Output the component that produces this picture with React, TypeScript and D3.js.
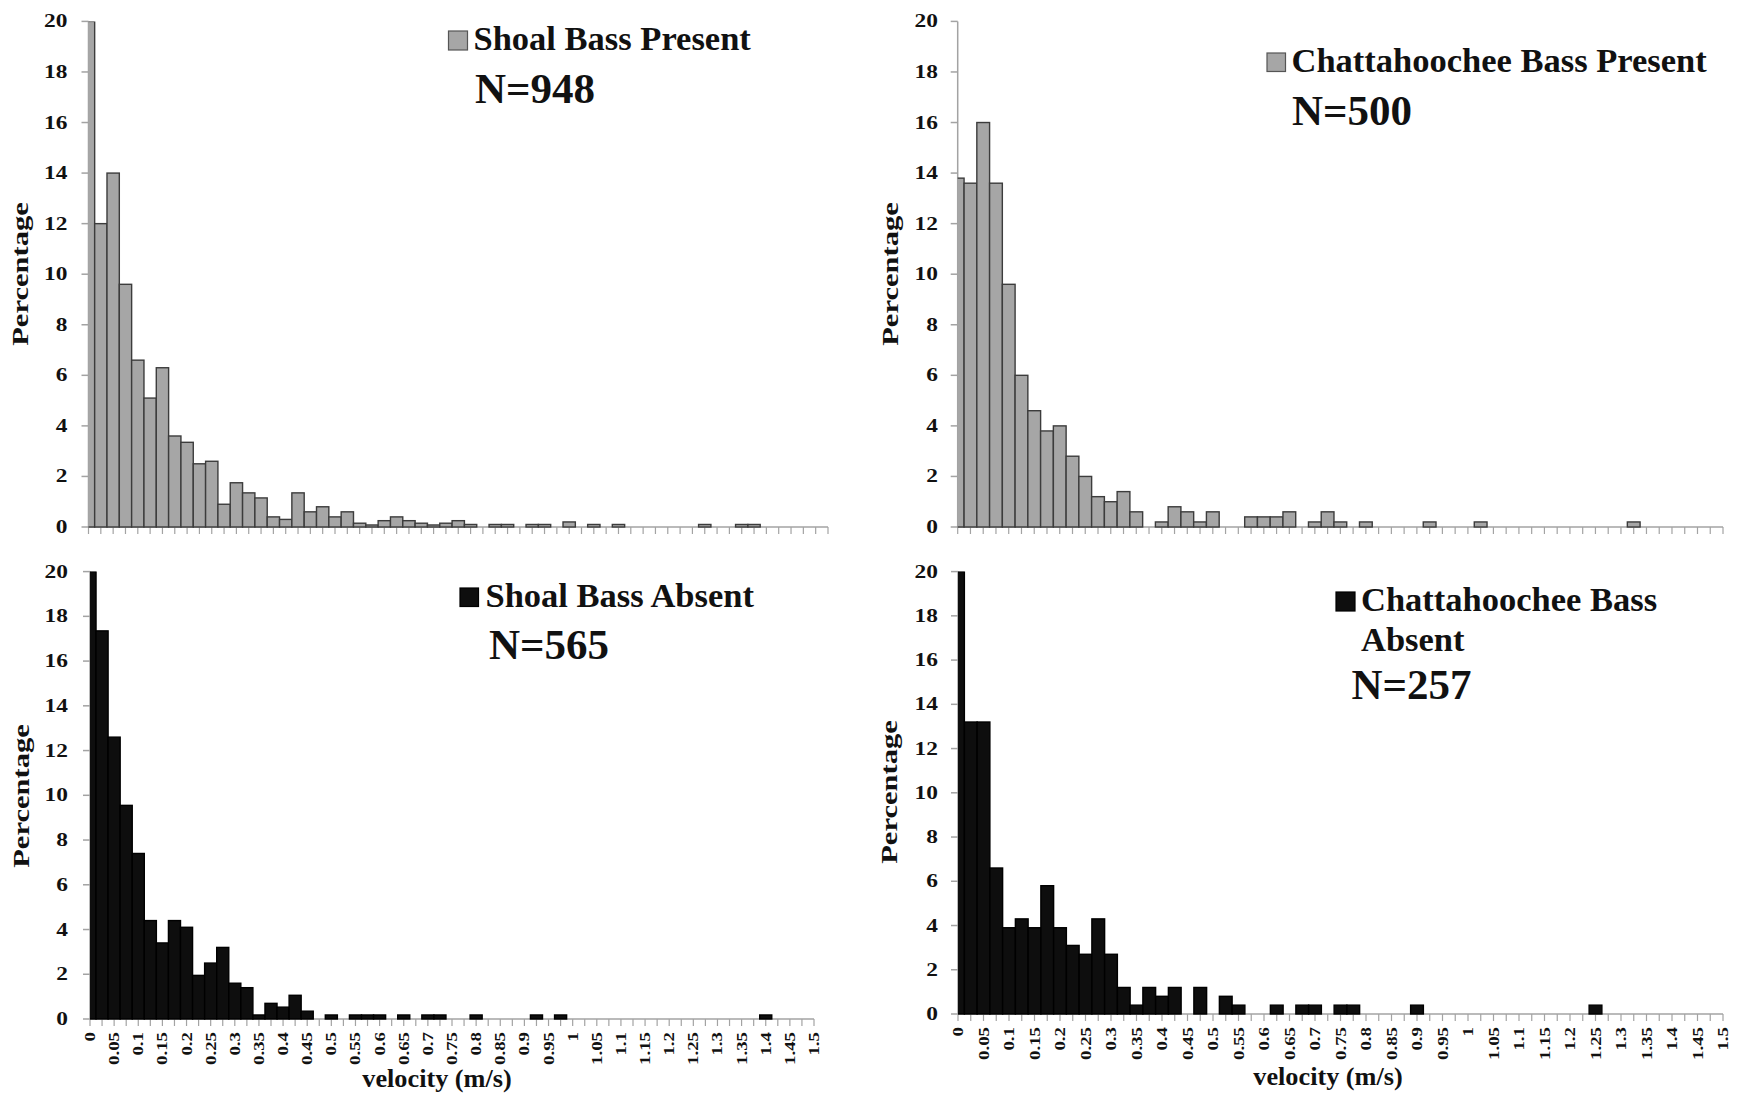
import React from 'react';
import * as d3 from 'd3';

// ---------- DATA ----------
const velocityCategories: number[] = [
  0, 0.025, 0.05, 0.075, 0.1, 0.125, 0.15, 0.175, 0.2, 0.225,
  0.25, 0.275, 0.3, 0.325, 0.35, 0.375, 0.4, 0.425, 0.45, 0.475,
  0.5, 0.525, 0.55, 0.575, 0.6, 0.625, 0.65, 0.675, 0.7, 0.725,
  0.75, 0.775, 0.8, 0.825, 0.85, 0.875, 0.9, 0.925, 0.95, 0.975,
  1, 1.025, 1.05, 1.075, 1.1, 1.125, 1.15, 1.175, 1.2, 1.225,
  1.25, 1.275, 1.3, 1.325, 1.35, 1.375, 1.4, 1.425, 1.45, 1.475, 1.5,
];

const velocityTickLabels: string[] = [
  '0', '0.05', '0.1', '0.15', '0.2', '0.25', '0.3', '0.35', '0.4', '0.45',
  '0.5', '0.55', '0.6', '0.65', '0.7', '0.75', '0.8', '0.85', '0.9', '0.95',
  '1', '1.05', '1.1', '1.15', '1.2', '1.25', '1.3', '1.35', '1.4', '1.45', '1.5',
];

const percentTicks: number[] = [0, 2, 4, 6, 8, 10, 12, 14, 16, 18, 20];

const shoalPresent: number[] = [
  20, 12.0, 14.0, 9.6, 6.6, 5.1, 6.3, 3.6, 3.35, 2.5,
  2.6, 0.9, 1.75, 1.35, 1.15, 0.4, 0.3, 1.35, 0.6, 0.8,
  0.4, 0.6, 0.15, 0.08, 0.25, 0.4, 0.25, 0.15, 0.08, 0.15,
  0.25, 0.1, 0, 0.1, 0.1, 0, 0.1, 0.1, 0, 0.2,
  0, 0.1, 0, 0.1, 0, 0, 0, 0, 0, 0,
  0.1, 0, 0, 0.1, 0.1, 0, 0, 0, 0, 0, 0,
];

const chattPresent: number[] = [
  13.8, 13.6, 16.0, 13.6, 9.6, 6.0, 4.6, 3.8, 4.0, 2.8,
  2.0, 1.2, 1.0, 1.4, 0.6, 0, 0.2, 0.8, 0.6, 0.2,
  0.6, 0, 0, 0.4, 0.4, 0.4, 0.6, 0, 0.2, 0.6,
  0.2, 0, 0.2, 0, 0, 0, 0, 0.2, 0, 0,
  0, 0.2, 0, 0, 0, 0, 0, 0, 0, 0,
  0, 0, 0, 0.2, 0, 0, 0, 0, 0, 0, 0,
];

const shoalAbsent: number[] = [
  20, 17.35, 12.6, 9.55, 7.4, 4.4, 3.4, 4.4, 4.1, 1.95,
  2.5, 3.2, 1.6, 1.4, 0.18, 0.7, 0.53, 1.06, 0.35, 0,
  0.18, 0, 0.18, 0.18, 0.18, 0, 0.18, 0, 0.18, 0.18,
  0, 0, 0.18, 0, 0, 0, 0, 0.18, 0, 0.18,
  0, 0, 0, 0, 0, 0, 0, 0, 0, 0,
  0, 0, 0, 0, 0, 0, 0.18, 0, 0, 0, 0,
];

const chattAbsent: number[] = [
  20, 13.2, 13.2, 6.6, 3.9, 4.3, 3.9, 5.8, 3.9, 3.1,
  2.7, 4.3, 2.7, 1.2, 0.4, 1.2, 0.8, 1.2, 0, 1.2,
  0, 0.8, 0.4, 0, 0, 0.4, 0, 0.4, 0.4, 0,
  0.4, 0.4, 0, 0, 0, 0, 0.4, 0, 0, 0,
  0, 0, 0, 0, 0, 0, 0, 0, 0, 0,
  0.4, 0, 0, 0, 0, 0, 0, 0, 0, 0, 0,
];

const legendShoalPresent: string[] = ['Shoal Bass Present'];
const legendChattPresent: string[] = ['Chattahoochee Bass Present'];
const legendShoalAbsent: string[] = ['Shoal Bass Absent'];
const legendChattAbsent: string[] = ['Chattahoochee Bass', 'Absent'];
const sampleSizes: string[] = ['N=948', 'N=500', 'N=565', 'N=257'];

// ---------- STYLE ----------
const FONT = "'Liberation Serif', 'Times New Roman', serif";
const TEXT = '#111';
const AXIS = '#a3a3a3';
const GRAY_FILL = '#a6a6a6';
const GRAY_STROKE = '#3c3c3c';
const BLACK_FILL = '#0e0e0e';
const STRETCH = 1.3;

type PanelProps = {
  id: string;
  values: number[];
  fill: string;
  stroke: string;
  x0: number; x1: number; y20: number; y0: number;
  yLabelRight: number;
  pctX: number; pctY: number;
  square: { x: number; y: number; s: number };
  lines: { text: string; x: number; y: number }[];
  n: { text: string; x: number; y: number };
  xLabels?: boolean;
  velocity?: { x: number; y: number };
};

function Panel(p: PanelProps) {
  const x = d3.scalePoint<number>().domain(velocityCategories).range([p.x0, p.x1]);
  const step = x.step();
  const y = d3.scaleLinear().domain([0, 20]).range([p.y0, p.y20]);
  const clipId = `clip-${p.id}`;
  return (
    <g>
      <defs>
        <clipPath id={clipId}>
          <rect x={p.x0} y={p.y20} width={p.x1 - p.x0} height={p.y0 - p.y20 + 2} />
        </clipPath>
      </defs>
      {/* axes */}
      <line x1={p.x0} x2={p.x0} y1={p.y20} y2={p.y0} stroke={AXIS} strokeWidth={1.5} />
      <line x1={p.x0} x2={p.x1} y1={p.y0} y2={p.y0} stroke={AXIS} strokeWidth={1.5} />
      {percentTicks.map((t) => (
        <line key={`yt${t}`} x1={p.x0 - 7} x2={p.x0} y1={y(t)} y2={y(t)} stroke={AXIS} strokeWidth={1.5} />
      ))}
      {velocityCategories.map((c) => (
        <line key={`xt${c}`} x1={x(c)!} x2={x(c)!} y1={p.y0} y2={p.y0 + 7} stroke={AXIS} strokeWidth={1.2} />
      ))}
      {/* bars */}
      <g clipPath={`url(#${clipId})`}>
        {p.values.map((v, i) =>
          v > 0 ? (
            <rect
              key={`b${i}`}
              x={x(velocityCategories[i])! - step / 2}
              y={y(v)}
              width={step}
              height={p.y0 - y(v)}
              fill={p.fill}
              stroke={p.stroke}
              strokeWidth={1.4}
            />
          ) : null
        )}
      </g>
      {/* y tick labels */}
      {percentTicks.map((t) => (
        <text
          key={`yl${t}`}
          transform={`translate(${p.yLabelRight},${y(t) + 6}) scale(${STRETCH},1)`}
          textAnchor="end"
          fontSize={18}
          fontWeight="bold"
          fontFamily={FONT}
          fill={TEXT}
        >
          {t}
        </text>
      ))}
      {/* y title */}
      <text
        transform={`translate(${p.pctX},${p.pctY}) rotate(-90) scale(${STRETCH},1)`}
        textAnchor="middle"
        fontSize={23.5}
        fontWeight="bold"
        fontFamily={FONT}
        fill={TEXT}
      >
        Percentage
      </text>
      {/* x tick labels */}
      {p.xLabels &&
        velocityTickLabels.map((lab, k) => {
          const cx = x(velocityCategories[k * 2])!;
          return (
            <text
              key={`xl${k}`}
              transform={`translate(${cx + 5},${p.y0 + 13}) rotate(-90) scale(${STRETCH},1)`}
              textAnchor="end"
              fontSize={14.5}
              fontWeight="bold"
              fontFamily={FONT}
              fill={TEXT}
            >
              {lab}
            </text>
          );
        })}
      {p.velocity && (
        <text
          transform={`translate(${p.velocity.x},${p.velocity.y}) scale(1.05,1)`}
          textAnchor="middle"
          fontSize={25}
          fontWeight="bold"
          fontFamily={FONT}
          fill={TEXT}
        >
          velocity (m/s)
        </text>
      )}
      {/* legend */}
      <rect
        x={p.square.x}
        y={p.square.y}
        width={p.square.s}
        height={p.square.s}
        fill={p.fill}
        stroke={p.fill === GRAY_FILL ? '#555' : '#000'}
        strokeWidth={1.2}
      />
      {p.lines.map((l, i) => (
        <text key={`lg${i}`} x={l.x} y={l.y} fontSize={34.5} fontWeight="bold" fontFamily={FONT} fill={TEXT}>
          {l.text}
        </text>
      ))}
      <text x={p.n.x} y={p.n.y} fontSize={43} fontWeight="bold" fontFamily={FONT} fill={TEXT}>
        {p.n.text}
      </text>
    </g>
  );
}

export default function App() {
  return (
    <svg
      width={1738}
      height={1095}
      viewBox="0 0 1738 1095"
      style={{ position: 'absolute', left: 0, top: 0, background: '#fff' }}
    >
      <rect x={0} y={0} width={1738} height={1095} fill="#fff" />
      <Panel
        id="tl"
        values={shoalPresent}
        fill={GRAY_FILL}
        stroke={GRAY_STROKE}
        x0={88.5} x1={828} y20={21.4} y0={527}
        yLabelRight={67.5}
        pctX={28.3} pctY={274}
        square={{ x: 448.5, y: 31, s: 19 }}
        lines={[{ text: legendShoalPresent[0], x: 473.5, y: 50 }]}
        n={{ text: sampleSizes[0], x: 475, y: 103 }}
      />
      <Panel
        id="tr"
        values={chattPresent}
        fill={GRAY_FILL}
        stroke={GRAY_STROKE}
        x0={957.7} x1={1723} y20={21.4} y0={527}
        yLabelRight={938}
        pctX={898.3} pctY={274}
        square={{ x: 1267, y: 53, s: 18.5 }}
        lines={[{ text: legendChattPresent[0], x: 1291.5, y: 72 }]}
        n={{ text: sampleSizes[1], x: 1292, y: 125 }}
      />
      <Panel
        id="bl"
        values={shoalAbsent}
        fill={BLACK_FILL}
        stroke="#000"
        x0={90} x1={814} y20={571.6} y0={1019}
        yLabelRight={68}
        pctX={29} pctY={796}
        square={{ x: 460, y: 588, s: 18.5 }}
        lines={[{ text: legendShoalAbsent[0], x: 485.5, y: 607 }]}
        n={{ text: sampleSizes[2], x: 489, y: 659 }}
        xLabels
        velocity={{ x: 437, y: 1087 }}
      />
      <Panel
        id="br"
        values={chattAbsent}
        fill={BLACK_FILL}
        stroke="#000"
        x0={958} x1={1723} y20={571.6} y0={1014}
        yLabelRight={938}
        pctX={897} pctY={792}
        square={{ x: 1336, y: 592, s: 19 }}
        lines={[
          { text: legendChattAbsent[0], x: 1361, y: 611 },
          { text: legendChattAbsent[1], x: 1361, y: 651 },
        ]}
        n={{ text: sampleSizes[3], x: 1351.5, y: 699 }}
        xLabels
        velocity={{ x: 1328, y: 1085 }}
      />
    </svg>
  );
}
